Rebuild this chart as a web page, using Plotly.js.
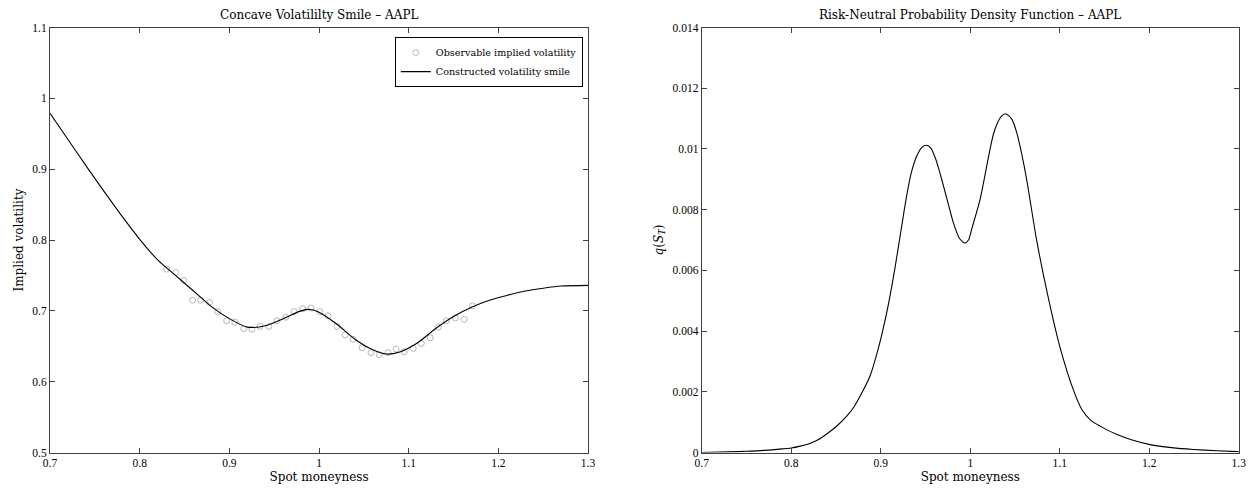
<!DOCTYPE html>
<html>
<head>
<meta charset="utf-8">
<script src="https://cdn.plot.ly/plotly-3.0.1.min.js"></script>
<style>html,body{margin:0;padding:0;background:#fff;}#chart{width:1248px;height:488px;}</style>
</head>
<body>
<div id="chart"></div>
<script>
// Observed implied volatility (left panel)
const obsMoneyness = [0.830,0.840,0.849,0.859,0.868,0.878,0.887,0.897,0.906,0.916,0.925,0.934,0.944,0.953,0.963,0.972,0.982,0.991,1.001,1.010,1.020,1.029,1.038,1.048,1.058,1.067,1.077,1.086,1.095,1.105,1.114,1.124,1.133,1.142,1.152,1.162,1.171];
const obsVol = [0.759,0.754,0.743,0.715,0.715,0.712,0.699,0.686,0.684,0.675,0.674,0.678,0.678,0.686,0.691,0.699,0.703,0.704,0.699,0.693,0.678,0.666,0.660,0.648,0.641,0.638,0.641,0.646,0.642,0.647,0.654,0.662,0.677,0.686,0.690,0.688,0.707];

// Constructed volatility smile (left panel)
const smileMoneyness = [0.70,0.72,0.74,0.76,0.78,0.80,0.82,0.84,0.86,0.88,0.90,0.92,0.94,0.96,0.98,0.99,1.00,1.02,1.04,1.06,1.075,1.09,1.11,1.13,1.15,1.17,1.19,1.21,1.23,1.25,1.27,1.30];
const smileVol = [0.979,0.942,0.905,0.869,0.834,0.801,0.772,0.750,0.728,0.706,0.689,0.677,0.679,0.689,0.700,0.702,0.698,0.681,0.660,0.645,0.639,0.642,0.655,0.675,0.692,0.705,0.715,0.722,0.728,0.732,0.735,0.736];

// Risk-neutral density (right panel)
const pdfMoneyness = [0.700,0.730,0.750,0.770,0.790,0.800,0.810,0.820,0.830,0.840,0.850,0.862,0.870,0.877,0.888,0.897,0.905,0.910,0.916,0.922,0.928,0.934,0.940,0.946,0.951,0.956,0.961,0.966,0.974,0.981,0.988,0.994,0.998,1.002,1.011,1.022,1.026,1.031,1.035,1.039,1.043,1.047,1.052,1.057,1.063,1.074,1.086,1.100,1.115,1.125,1.135,1.145,1.164,1.180,1.201,1.225,1.249,1.275,1.300];
const pdfValue = [0.00000,0.00002,0.00004,0.00007,0.00012,0.00015,0.00021,0.00029,0.00042,0.00062,0.00085,0.00120,0.00150,0.00186,0.00252,0.00340,0.00438,0.00510,0.00610,0.00720,0.00830,0.00920,0.00975,0.01005,0.01012,0.01003,0.00970,0.00922,0.00835,0.00758,0.00705,0.00690,0.00700,0.00740,0.00834,0.00998,0.01050,0.01090,0.01108,0.01116,0.01110,0.01095,0.01053,0.00990,0.00900,0.00702,0.00526,0.00350,0.00208,0.00140,0.00105,0.00087,0.00059,0.00042,0.00026,0.00016,0.00010,0.00006,0.00003];

const xTicks = [0.7,0.8,0.9,1.0,1.1,1.2,1.3];
const xTickText = ['0.7','0.8','0.9','1','1.1','1.2','1.3'];
const volTicks = [0.5,0.6,0.7,0.8,0.9,1.0,1.1];
const volTickText = ['0.5','0.6','0.7','0.8','0.9','1','1.1'];
const pdfTicks = [0,0.002,0.004,0.006,0.008,0.010,0.012,0.014];
const pdfTickText = ['0','0.002','0.004','0.006','0.008','0.01','0.012','0.014'];

const TICKFONT = 'Liberation Serif, serif';
const TEXTFONT = 'DejaVu Serif, serif';

const traces = [
  {x: obsMoneyness, y: obsVol, type:'scatter', mode:'markers', name:'Observable implied volatility',
   marker:{symbol:'circle-open', size:6, color:'#a6a6a6', line:{width:0.8, color:'#a6a6a6'}}, xaxis:'x', yaxis:'y'},
  {x: smileMoneyness, y: smileVol, type:'scatter', mode:'lines', name:'Constructed volatility smile',
   line:{color:'#000', width:1.1, shape:'spline', smoothing:0.8}, xaxis:'x', yaxis:'y'},
  {x: pdfMoneyness, y: pdfValue, type:'scatter', mode:'lines', showlegend:false,
   line:{color:'#000', width:1.1, shape:'spline', smoothing:0.6}, xaxis:'x2', yaxis:'y2'}
];

const axisCommon = {
  showgrid:false, zeroline:false, showline:true, linecolor:'#404040', linewidth:1,
  mirror:'ticks', ticks:'inside', ticklen:5, tickcolor:'#404040', tickwidth:1,
  tickfont:{family:TICKFONT, size:11.5, color:'#000'}
};

const layout = {
  width:1248, height:488,
  margin:{l:0, r:0, t:0, b:0},
  paper_bgcolor:'#fff', plot_bgcolor:'#fff',
  font:{family:TEXTFONT, size:12, color:'#000'},
  showlegend:true,
  legend:{x:0.467, xanchor:'right', y:0.924, yanchor:'top', bgcolor:'#fff',
          bordercolor:'#000', borderwidth:1, font:{family:TEXTFONT, size:9.6, color:'#000'},
          tracegroupgap:0, itemwidth:30},
  xaxis: Object.assign({}, axisCommon, {domain:[0.0401,0.4712], range:[0.7,1.3], tickvals:xTicks, ticktext:xTickText, anchor:'y',
          title:{text:'Spot moneyness', font:{family:TEXTFONT, size:12}, standoff:4}}),
  yaxis: Object.assign({}, axisCommon, {domain:[0.0727,0.9436], range:[0.5,1.1], tickvals:volTicks, ticktext:volTickText, anchor:'x',
          title:{text:'Implied volatility', font:{family:TEXTFONT, size:12}, standoff:6}}),
  xaxis2: Object.assign({}, axisCommon, {domain:[0.5623,0.9926], range:[0.7,1.3], tickvals:xTicks, ticktext:xTickText, anchor:'y2',
          title:{text:'Spot moneyness', font:{family:TEXTFONT, size:12}, standoff:4}}),
  yaxis2: Object.assign({}, axisCommon, {domain:[0.0727,0.9436], range:[0,0.014], tickvals:pdfTicks, ticktext:pdfTickText, anchor:'x2',
          title:{text:'<i>q</i>(<i>S</i><sub><i>T</i></sub>)', font:{family:TEXTFONT, size:12}, standoff:6}}),
  annotations:[
    {text:'Concave Volatililty Smile – AAPL', xref:'paper', yref:'paper', x:0.2557, y:0.9436, yshift:4,
     xanchor:'center', yanchor:'bottom', showarrow:false, font:{family:TEXTFONT, size:12, color:'#000'}},
    {text:'Risk-Neutral Probability Density Function – AAPL', xref:'paper', yref:'paper', x:0.7775, y:0.9436, yshift:4,
     xanchor:'center', yanchor:'bottom', showarrow:false, font:{family:TEXTFONT, size:12, color:'#000'}}
  ]
};

Plotly.newPlot('chart', traces, layout, {displayModeBar:false, staticPlot:true});
</script>
</body>
</html>
